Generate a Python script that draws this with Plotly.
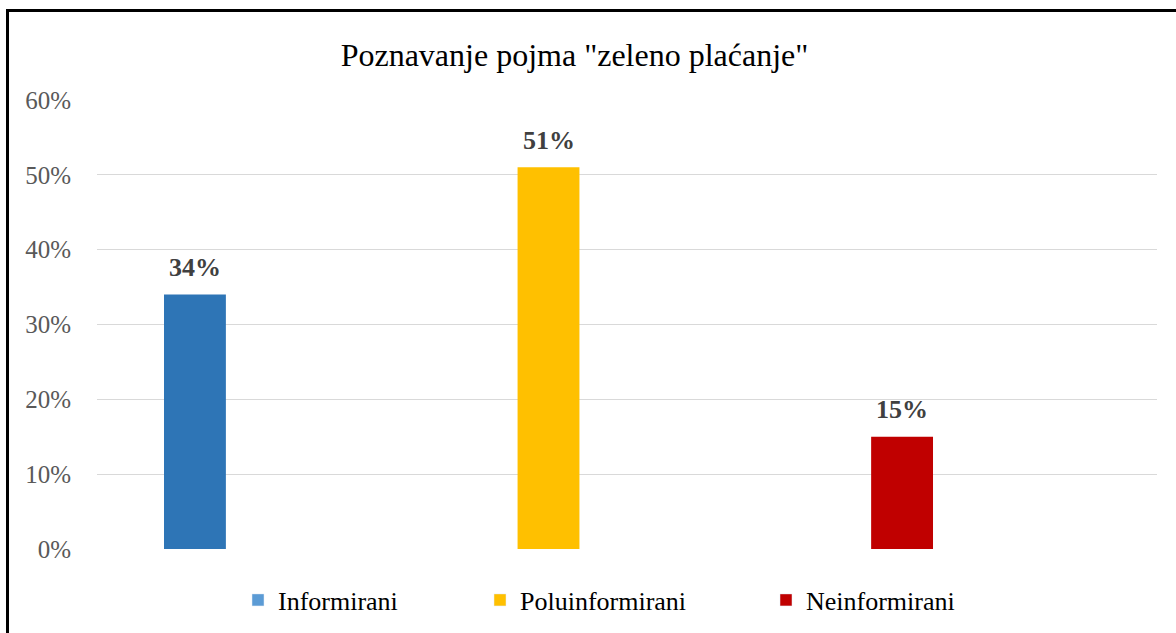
import plotly.graph_objects as go

categories = ["Informirani", "Poluinformirani", "Neinformirani"]
values = [0.34, 0.51, 0.15]
bar_colors = ["#2E75B6", "#FFC000", "#C00000"]
legend_colors = ["#5B9BD5", "#FFC000", "#C00000"]
label_texts = ["34%", "51%", "15%"]
title_text = 'Poznavanje pojma "zeleno plaćanje"'
legend_text_x = [275, 517, 803]

W, H = 1176, 633
L, R, T, B = 97, 19, 100, 84
pw, ph = W - L - R, H - T - B

fig = go.Figure()
for cat, val, col in zip(categories, values, bar_colors):
    fig.add_trace(go.Bar(
        x=[cat], y=[val], marker=dict(color=col, line=dict(width=0)),
        width=0.175, showlegend=False, hoverinfo="skip",
    ))

legend_names = ["legend", "legend2", "legend3"]
for cat, col, lg in zip(categories, legend_colors, legend_names):
    fig.add_trace(go.Bar(x=[None], y=[None], name=cat, marker=dict(color=col),
                         showlegend=True, legend=lg))

annotations = []
for cat, val, lab in zip(categories, values, label_texts):
    annotations.append(dict(
        x=cat, y=val, xref="x", yref="y", text="<b>" + lab + "</b>", showarrow=False,
        yanchor="middle", yshift=27,
        font=dict(family="Liberation Serif", size=26, color="#404040"),
    ))


def px_to_paper_x(px):
    return (px - L) / pw


def px_to_paper_y(py):
    return (H - B - py) / ph


legend_font = dict(family="Liberation Serif", size=26, color="#000000")
legend_common = dict(orientation="h", xref="container", yref="container",
                     xanchor="left", y=1 - 600 / H, yanchor="middle",
                     font=legend_font, itemwidth=30, bgcolor="rgba(0,0,0,0)")

fig.update_layout(
    width=W, height=H,
    margin=dict(l=L, r=R, t=T, b=B),
    paper_bgcolor="white", plot_bgcolor="white",
    barmode="overlay",
    title=dict(text=title_text, x=px_to_paper_x(574.5), xref="paper", xanchor="center",
               y=1 - 55 / H, yanchor="middle",
               font=dict(family="Liberation Serif", size=32, color="#000000")),
    xaxis=dict(type="category", range=[-0.277, 2.721], showticklabels=False,
               showgrid=False, zeroline=False, showline=False, ticks=""),
    yaxis=dict(range=[0, 0.6], dtick=0.1, tickformat=".0%", showgrid=True,
               gridcolor="#D9D9D9", gridwidth=1, zeroline=False, showline=False,
               ticks="", ticklabelstandoff=25,
               tickfont=dict(family="Liberation Serif", size=25, color="#595959")),
    legend=dict(x=(legend_text_x[0] - 37) / W, **legend_common),
    legend2=dict(x=(legend_text_x[1] - 37) / W, **legend_common),
    legend3=dict(x=(legend_text_x[2] - 37) / W, **legend_common),
    showlegend=True,
    annotations=annotations,
    shapes=[dict(type="rect", xref="paper", yref="paper",
                 x0=px_to_paper_x(7.5), x1=px_to_paper_x(1185),
                 y0=px_to_paper_y(645), y1=px_to_paper_y(10.5),
                 line=dict(color="#000000", width=3), fillcolor="rgba(0,0,0,0)", layer="above")],
)

fig.write_html("out.html", config={"displayModeBar": False},
               post_script="document.body.style.margin='0';")
